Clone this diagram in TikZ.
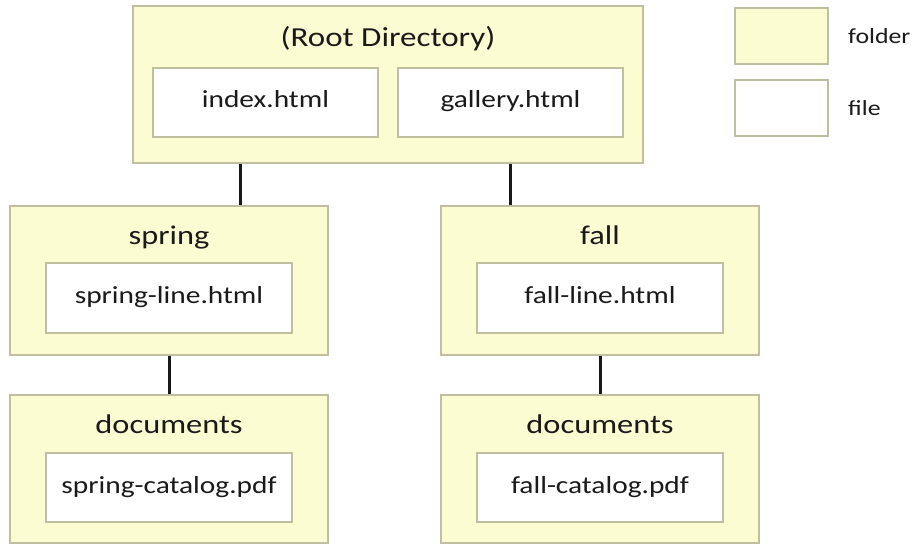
\documentclass[tikz,border=0pt]{standalone}
\usepackage{fontspec}
\setmainfont{Carlito}[FakeStretch=1.2]

\definecolor{folderfill}{RGB}{252,252,210}
\definecolor{boxline}{RGB}{192,192,160}
\definecolor{inktext}{RGB}{26,26,26}

\tikzset{
  folderbox/.style={draw=boxline, line width=2pt, fill=folderfill, inner sep=0pt},
  filebox/.style={draw=boxline, line width=2pt, fill=white, inner sep=0pt,
    text=inktext, font=\fontsize{24.5}{28}\selectfont, text height=17pt, text depth=6pt},
  foldertitle/.style={anchor=base, text=inktext, inner sep=0pt, font=\fontsize{27}{31}\selectfont},
  legendtext/.style={anchor=west, text=inktext, inner sep=0pt, font=\fontsize{21.5}{26}\selectfont},
  link/.style={line width=3pt, draw=black!90}
}

\begin{document}
\begin{tikzpicture}[x=1pt,y=-1pt]
  \useasboundingbox (0,0) rectangle (913,545);
  \fill[white] (0,0) rectangle (913,545);

  % root directory and its files
  \node[folderbox, minimum width=510pt, minimum height=157pt] (root) at (388,84.5) {};
  \node[foldertitle, font=\fontsize{27.5}{32}\selectfont] (roottitle) at (388,47) {(Root Directory)};
  \node[filebox, minimum width=225pt, minimum height=69pt] (index) at (265.5,102.5) {index.html};
  \node[filebox, minimum width=225pt, minimum height=69pt] (gallery) at (510.5,102.5) {gallery.html};

  % spring branch
  \node[folderbox, minimum width=318pt, minimum height=149pt] (spring) at (169,280.5) {};
  \node[foldertitle] (springtitle) at (169,245) {spring};
  \node[filebox, minimum width=246pt, minimum height=70pt] (springline) at (169,298) {spring-line.html};

  \node[folderbox, minimum width=318pt, minimum height=148pt] (springdocs) at (169,469) {};
  \node[foldertitle] (springdocstitle) at (169,433) {documents};
  \node[filebox, minimum width=246pt, minimum height=69pt] (springcat) at (169,487.5) {spring-catalog.pdf};

  % fall branch
  \node[folderbox, minimum width=318pt, minimum height=149pt] (fall) at (600,280.5) {};
  \node[foldertitle] (falltitle) at (600,245) {fall};
  \node[filebox, minimum width=246pt, minimum height=70pt] (fallline) at (600,298) {fall-line.html};

  \node[folderbox, minimum width=318pt, minimum height=148pt] (falldocs) at (600,469) {};
  \node[foldertitle] (falldocstitle) at (600,433) {documents};
  \node[filebox, minimum width=246pt, minimum height=69pt] (fallcat) at (600,487.5) {fall-catalog.pdf};

  % connectors
  \coordinate (leftdrop) at (240,0);
  \coordinate (rightdrop) at (510,0);
  \draw[link] (root.south -| leftdrop) -- (spring.north -| leftdrop);
  \draw[link] (root.south -| rightdrop) -- (fall.north -| rightdrop);
  \draw[link] (spring.south) -- (springdocs.north);
  \draw[link] (fall.south) -- (falldocs.north);

  % legend
  \node[folderbox, minimum width=93pt, minimum height=56pt] (keyfolder) at (781.5,36) {};
  \node[filebox, minimum width=93pt, minimum height=56pt] (keyfile) at (781.5,108) {};
  \node[legendtext] (keyfoldertext) at (848,36) {folder};
  \node[legendtext] (keyfiletext) at (848,108) {file};
\end{tikzpicture}
\end{document}
